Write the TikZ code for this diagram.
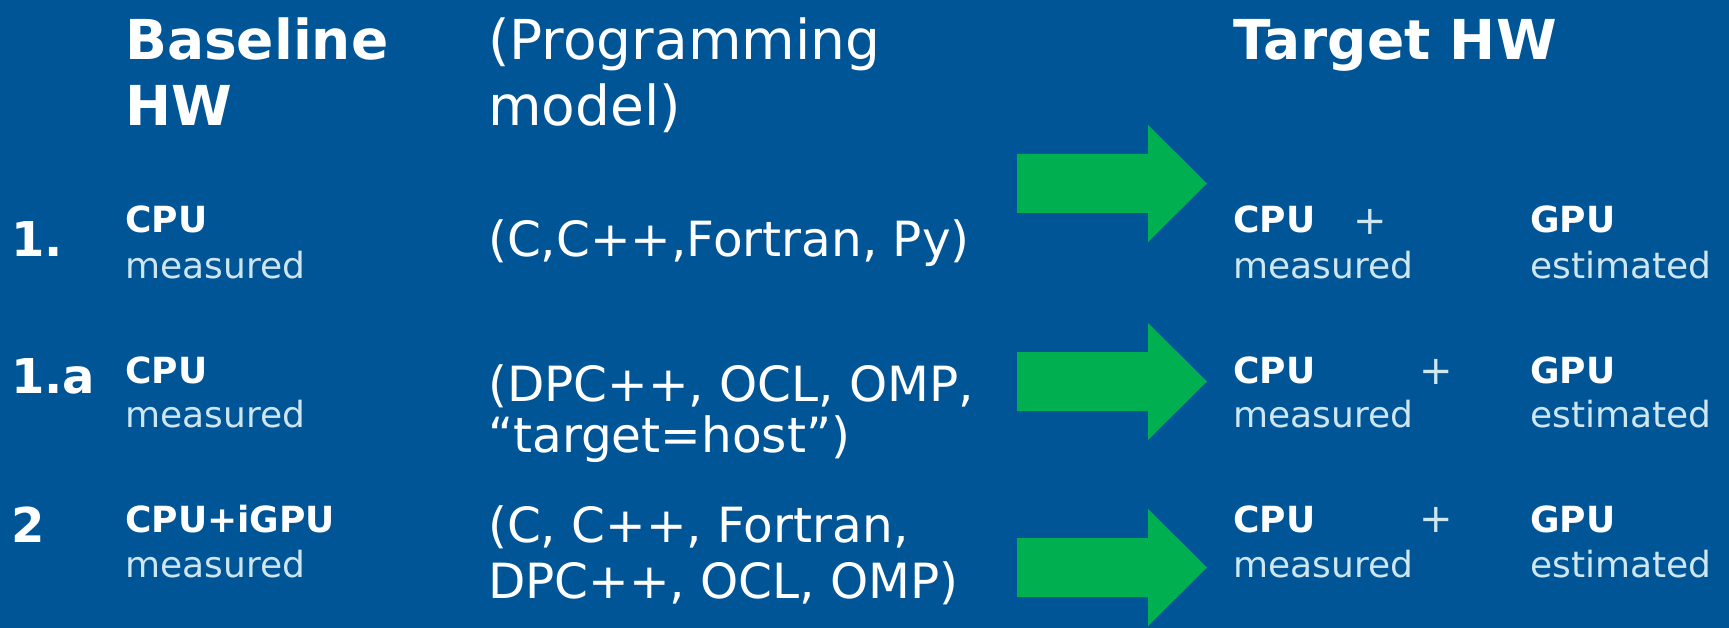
\documentclass[tikz,border=0pt]{standalone}
\usepackage{fontspec}
\setmainfont{DejaVu Sans}
\definecolor{slideblue}{RGB}{0,85,151}
\definecolor{arrowgreen}{RGB}{0,176,80}
\definecolor{paletext}{RGB}{205,230,240}
\tikzset{
  lbl/.style={anchor=base west, inner sep=0pt, text=white},
  head/.style={lbl, font=\fontsize{55bp}{60bp}\selectfont\bfseries},
  headreg/.style={lbl, font=\fontsize{55bp}{60bp}\selectfont},
  rownum/.style={lbl, font=\fontsize{48bp}{54bp}\selectfont\bfseries},
  model/.style={lbl, font=\fontsize{48.5bp}{54bp}\selectfont},
  hw/.style={lbl, font=\fontsize{36bp}{40bp}\selectfont\bfseries},
  note/.style={lbl, text=paletext, font=\fontsize{36bp}{40bp}\selectfont},
  plus/.style={anchor=center, inner sep=0pt, text=paletext, font=\fontsize{40bp}{44bp}\selectfont},
  blockarrow/.style={fill=arrowgreen, draw=none}
}
% block arrow centred vertically at #1
\newcommand\greenarrow[1]{%
  \fill[blockarrow] (1017,#1-29.5) -- (1148,#1-29.5) -- (1148,#1-58.5)
    -- (1207,#1) -- (1148,#1+58.5) -- (1148,#1+29.5) -- (1017,#1+29.5) -- cycle;}
\begin{document}
\begin{tikzpicture}[x=1bp, y=-1bp]
\fill[slideblue] (0,0) rectangle (1729,628);
\useasboundingbox (0,0) rectangle (1729,628);

% column headings
\node[head] (base1) at (125,60) {Baseline};
\node[head] (base2) at (125,126) {HW};
\node[headreg] (prog1) at (488,60) {(Programming};
\node[headreg] (prog2) at (488,126) {model)};
\node[head] (target) at (1233,60) {Target HW};

% row 1
\node[rownum] (n1) at (11,257) {1.};
\node[hw] (b1) at (125,233) {CPU};
\node[note] (b1m) at (125,278) {measured};
\node[model] (m1) at (488,257) {(C,C++,Fortran, Py)};
\greenarrow{183.5}
\node[hw] (t1c) at (1233,233) {CPU};
\node[plus] (t1p) at (1370,222) {+};
\node[hw] (t1g) at (1530,233) {GPU};
\node[note] (t1cm) at (1233,278) {measured};
\node[note] (t1ge) at (1530,278) {estimated};

% row 1.a
\node[rownum] (n2) at (11,393) {1.a};
\node[hw] (b2) at (125,383) {CPU};
\node[note] (b2m) at (125,427) {measured};
\node[model] (m2a) at (488,401) {(DPC++, OCL, OMP,};
\node[model] (m2b) at (488,452) {“target=host”)};
\greenarrow{381.5}
\node[hw] (t2c) at (1233,383) {CPU};
\node[plus] (t2p) at (1436,372) {+};
\node[hw] (t2g) at (1530,383) {GPU};
\node[note] (t2cm) at (1233,427) {measured};
\node[note] (t2ge) at (1530,427) {estimated};

% row 2
\node[rownum] (n3) at (11,542) {2};
\node[hw] (b3) at (125,532) {CPU+iGPU};
\node[note] (b3m) at (125,577) {measured};
\node[model] (m3a) at (488,542) {(C, C++, Fortran,};
\node[model] (m3b) at (488,598) {DPC++, OCL, OMP)};
\greenarrow{567.5}
\node[hw] (t3c) at (1233,532) {CPU};
\node[plus] (t3p) at (1436,520) {+};
\node[hw] (t3g) at (1530,532) {GPU};
\node[note] (t3cm) at (1233,577) {measured};
\node[note] (t3ge) at (1530,577) {estimated};
\end{tikzpicture}
\end{document}
